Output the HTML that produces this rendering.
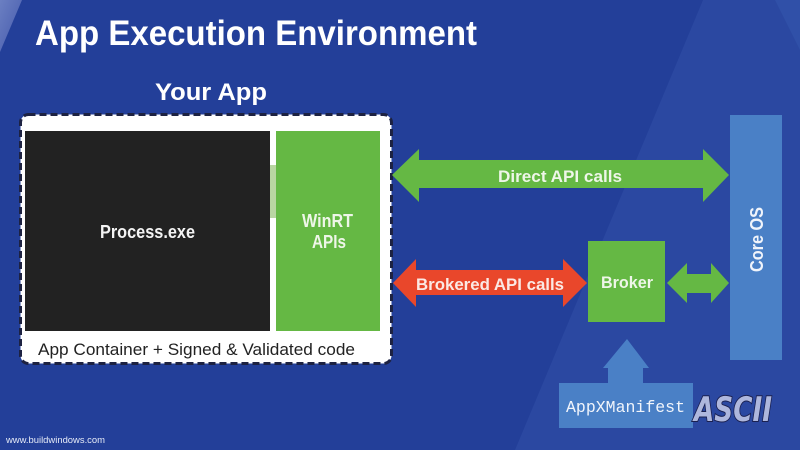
<!DOCTYPE html>
<html>
<head>
<meta charset="utf-8">
<style>
html,body{margin:0;padding:0;background:#233f99;}
svg{display:block;}
</style>
</head>
<body>
<svg width="800" height="450" viewBox="0 0 800 450" xmlns="http://www.w3.org/2000/svg">
  <defs>
    <linearGradient id="tl" x1="0" y1="0" x2="1" y2="1">
      <stop offset="0" stop-color="#6b7fc2"/>
      <stop offset="1" stop-color="#4358ab"/>
    </linearGradient>
  </defs>
  <!-- background -->
  <rect x="0" y="0" width="800" height="450" fill="#233f99"/>
  <polygon points="703,0 800,0 800,450 515,450" fill="#2b48a1"/>
  <polygon points="775,0 800,0 800,50" fill="#3050a8"/>
  <polygon points="0,0 22,0 0,52" fill="url(#tl)"/>

  <!-- title -->
  <text x="35" y="45" font-family="Liberation Sans, sans-serif" font-size="35" font-weight="bold" fill="#ffffff" textLength="442" lengthAdjust="spacingAndGlyphs">App Execution Environment</text>
  <text x="155" y="100" font-family="Liberation Sans, sans-serif" font-size="24" font-weight="bold" fill="#ffffff" textLength="112" lengthAdjust="spacingAndGlyphs">Your App</text>

  <!-- dashed container -->
  <rect x="20.5" y="114.5" width="371" height="249" rx="8" ry="8" fill="#ffffff" stroke="#1d2242" stroke-width="3" stroke-dasharray="7 4"/>
  <rect x="25" y="131" width="245" height="200" fill="#222222"/>
  <rect x="270" y="165" width="6" height="53" fill="#b9d6a2"/>
  <rect x="276" y="131" width="104" height="200" fill="#65b844"/>

  <text x="100" y="238" font-family="Liberation Sans, sans-serif" font-size="18" font-weight="bold" fill="#f4f4f4" textLength="95" lengthAdjust="spacingAndGlyphs">Process.exe</text>
  <text x="302" y="227" font-family="Liberation Sans, sans-serif" font-size="18" font-weight="bold" fill="#eef6e8" textLength="51" lengthAdjust="spacingAndGlyphs">WinRT</text>
  <text x="312" y="248" font-family="Liberation Sans, sans-serif" font-size="18" font-weight="bold" fill="#eef6e8" textLength="34" lengthAdjust="spacingAndGlyphs">APIs</text>
  <text x="38" y="355" font-family="Liberation Sans, sans-serif" font-size="17" fill="#222222" textLength="317" lengthAdjust="spacingAndGlyphs">App Container + Signed &amp; Validated code</text>

  <!-- direct arrow -->
  <polygon points="392,175 419,149 419,160 703,160 703,149 729,175 703,202 703,188 419,188 419,202" fill="#65b844"/>
  <text x="498" y="182" font-family="Liberation Sans, sans-serif" font-size="17" font-weight="bold" fill="#eef6e8" textLength="124" lengthAdjust="spacingAndGlyphs">Direct API calls</text>

  <!-- brokered arrow -->
  <polygon points="393,283 416,259 416,270 563,270 563,259 587,283 563,307 563,295 416,295 416,307" fill="#e9472b"/>
  <text x="416" y="290" font-family="Liberation Sans, sans-serif" font-size="17" font-weight="bold" fill="#fbe9e4" textLength="148" lengthAdjust="spacingAndGlyphs">Brokered API calls</text>

  <!-- broker -->
  <rect x="588" y="241" width="77" height="81" fill="#65b844"/>
  <text x="601" y="288" font-family="Liberation Sans, sans-serif" font-size="17" font-weight="bold" fill="#eef6e8" textLength="52" lengthAdjust="spacingAndGlyphs">Broker</text>

  <!-- small arrow -->
  <polygon points="667,283 687,263 687,274 711,274 711,263 729,283 711,303 711,293 687,293 687,303" fill="#65b844"/>

  <!-- core os -->
  <rect x="730" y="115" width="52" height="245" fill="#4a80c6"/>
  <text x="0" y="0" transform="translate(763,272) rotate(-90)" font-family="Liberation Sans, sans-serif" font-size="18" font-weight="bold" fill="#f0f4fb" textLength="65" lengthAdjust="spacingAndGlyphs">Core OS</text>

  <!-- manifest -->
  <polygon points="627,339 649,368 643,368 643,384 608,384 608,368 603,368" fill="#4a80c6"/>
  <rect x="559" y="383" width="134" height="45" fill="#4a80c6"/>
  <text x="566" y="412" font-family="Liberation Mono, monospace" font-size="16.5" fill="#f0f4fb" textLength="119" lengthAdjust="spacingAndGlyphs">AppXManifest</text>

  <!-- ASCII logo -->
  <text x="694" y="421" font-family="DejaVu Sans, sans-serif" font-size="34" font-weight="bold" font-style="italic" fill="#aeb7dd" stroke="#1a2050" stroke-width="2" paint-order="stroke" textLength="78" lengthAdjust="spacingAndGlyphs">ASCII</text>

  <!-- footer -->
  <text x="6" y="443" font-family="Liberation Sans, sans-serif" font-size="9.5" fill="#e6ebf7" textLength="99" lengthAdjust="spacingAndGlyphs">www.buildwindows.com</text>
</svg>
</body>
</html>
